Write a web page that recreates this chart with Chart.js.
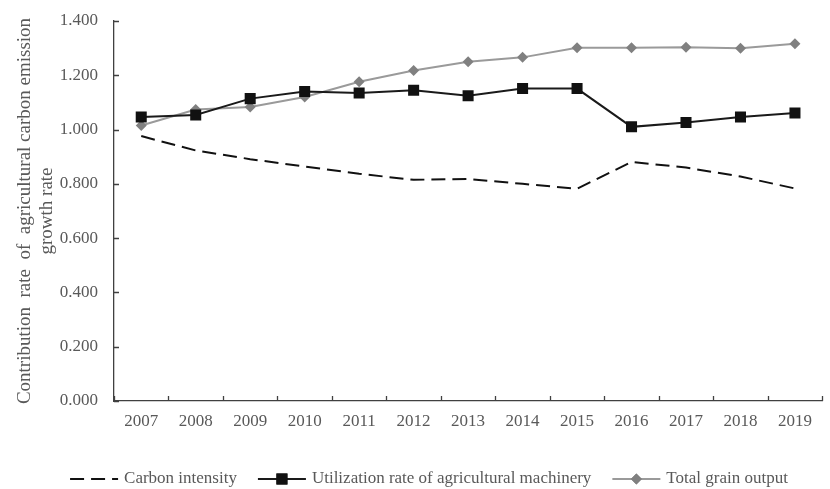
<!DOCTYPE html>
<html lang="en">
<head>
  <meta charset="UTF-8" />
  <title>Contribution rate of agricultural carbon emission growth rate</title>
  <style>
    * { margin: 0; padding: 0; box-sizing: border-box; }
    body { background: white; }
    #wrap { width: 830px; height: 489px; }
  </style>
</head>
<body>
  <div id="wrap"><canvas id="chartCanvas" width="830" height="489"></canvas></div>

  <script src="https://cdn.jsdelivr.net/npm/chart.js"></script>
  <script>
    const years = ['2007', '2008', '2009', '2010', '2011', '2012', '2013', '2014', '2015', '2016', '2017', '2018', '2019'];
    const carbonIntensity = [0.976, 0.923, 0.891, 0.864, 0.837, 0.815, 0.818, 0.800, 0.782, 0.881, 0.860, 0.827, 0.783];
    const machinery = [1.046, 1.054, 1.114, 1.140, 1.135, 1.145, 1.125, 1.151, 1.151, 1.010, 1.026, 1.046, 1.061];
    const grainOutput = [1.015, 1.074, 1.083, 1.120, 1.176, 1.218, 1.250, 1.266, 1.301, 1.301, 1.303, 1.300, 1.316];
    const yTicks = [0, 0.2, 0.4, 0.6, 0.8, 1.0, 1.2, 1.4];

    const serif = "'Liberation Serif', 'Times New Roman', serif";
    const grey = '#595959';
    const axisColor = '#404040';

    // inward tick marks on both axes
    const tickMarks = {
      id: 'tickMarks',
      afterDraw(chart) {
        const ctx = chart.ctx;
        const x = chart.scales.x, y = chart.scales.y;
        ctx.save();
        ctx.strokeStyle = axisColor;
        ctx.lineWidth = 1.3;
        ctx.beginPath();
        for (let i = 0; i <= years.length; i++) {
          const px = Math.round(x.getPixelForValue(i - 0.5)) + 0.5;
          ctx.moveTo(px, y.bottom);
          ctx.lineTo(px, y.bottom - 5);
        }
        yTicks.forEach(v => {
          const py = Math.round(y.getPixelForValue(v)) + 0.5;
          ctx.moveTo(x.left, py);
          ctx.lineTo(x.left + 5, py);
        });
        ctx.stroke();
        ctx.restore();
      }
    };

    // legend drawn in the bottom strip
    const bottomLegend = {
      id: 'bottomLegend',
      afterDraw(chart) {
        const ctx = chart.ctx;
        ctx.save();
        ctx.font = '17px ' + serif;
        ctx.textBaseline = 'middle';
        const items = chart.data.datasets.map(d => ({ ds: d, w: ctx.measureText(d.label).width }));
        const sample = 48, gapText = 6, gapItem = 21;
        let total = 0;
        items.forEach((it, i) => { total += sample + gapText + it.w + (i ? gapItem : 0); });
        let cx = 429 - total / 2;
        const cy = 479;
        items.forEach((it, i) => {
          if (i) cx += gapItem;
          const d = it.ds;
          ctx.strokeStyle = d.borderColor;
          ctx.lineWidth = d.borderWidth;
          ctx.setLineDash(d.borderDash || []);
          ctx.beginPath();
          ctx.moveTo(cx, cy);
          ctx.lineTo(cx + sample, cy);
          ctx.stroke();
          ctx.setLineDash([]);
          if (d.pointRadius > 0) {
            ctx.fillStyle = d.pointBackgroundColor;
            Chart.helpers.drawPoint(ctx, { pointStyle: d.pointStyle, radius: d.pointRadius, borderWidth: 0 }, cx + sample / 2, cy);
            ctx.fill();
          }
          cx += sample + gapText;
          ctx.fillStyle = grey;
          ctx.fillText(d.label, cx, cy);
          cx += it.w;
        });
        ctx.restore();
      }
    };

    const ctx = document.getElementById('chartCanvas').getContext('2d');
    const chart = new Chart(ctx, {
      type: 'line',
      data: {
        labels: years,
        datasets: [{
          label: 'Carbon intensity',
          data: carbonIntensity,
          borderColor: '#111',
          borderWidth: 2,
          borderDash: [14, 7],
          pointRadius: 0,
          fill: false
        }, {
          label: 'Utilization rate of agricultural machinery',
          data: machinery,
          borderColor: '#1a1a1a',
          borderWidth: 2,
          pointStyle: 'rect',
          pointRadius: 7.8,
          pointBackgroundColor: '#111',
          pointBorderWidth: 0,
          fill: false
        }, {
          label: 'Total grain output',
          data: grainOutput,
          borderColor: '#9a9a9a',
          borderWidth: 2,
          pointStyle: 'rectRot',
          pointRadius: 5.5,
          pointBackgroundColor: '#808080',
          pointBorderWidth: 0,
          fill: false
        }]
      },
      options: {
        responsive: false,
        animation: false,
        layout: { padding: { top: 21, right: 0, left: 0, bottom: 0 } },
        plugins: { legend: { display: false }, tooltip: { enabled: false } },
        scales: {
          x: {
            offset: true,
            grid: { display: false, drawTicks: false },
            border: { display: true, color: axisColor, width: 1.3 },
            ticks: { color: grey, font: { family: serif, size: 17 }, padding: 10, maxRotation: 0, autoSkip: false },
            afterFit(scale) {
              scale.height = 88;
              scale.paddingLeft = 0;
              scale.paddingRight = 0;
            }
          },
          y: {
            min: 0,
            max: 1.4,
            afterBuildTicks(scale) { scale.ticks = yTicks.map(v => ({ value: v })); },
            grid: { display: false, drawTicks: false },
            border: { display: true, color: axisColor, width: 1.3 },
            ticks: {
              color: grey,
              font: { family: serif, size: 17 },
              padding: 16,
              callback: v => Number(v).toFixed(3)
            },
            title: {
              display: true,
              text: ['Contribution  rate  of  agricultural carbon emission', 'growth rate'],
              color: grey,
              font: { family: serif, size: 19, lineHeight: 1.16 },
              padding: { top: 14, bottom: 0 }
            },
            afterFit(scale) {
              scale.width = 114;
              scale.paddingTop = 0;
              scale.paddingBottom = 0;
            }
          }
        }
      },
      plugins: [tickMarks, bottomLegend]
    });
  </script>
</body>
</html>
